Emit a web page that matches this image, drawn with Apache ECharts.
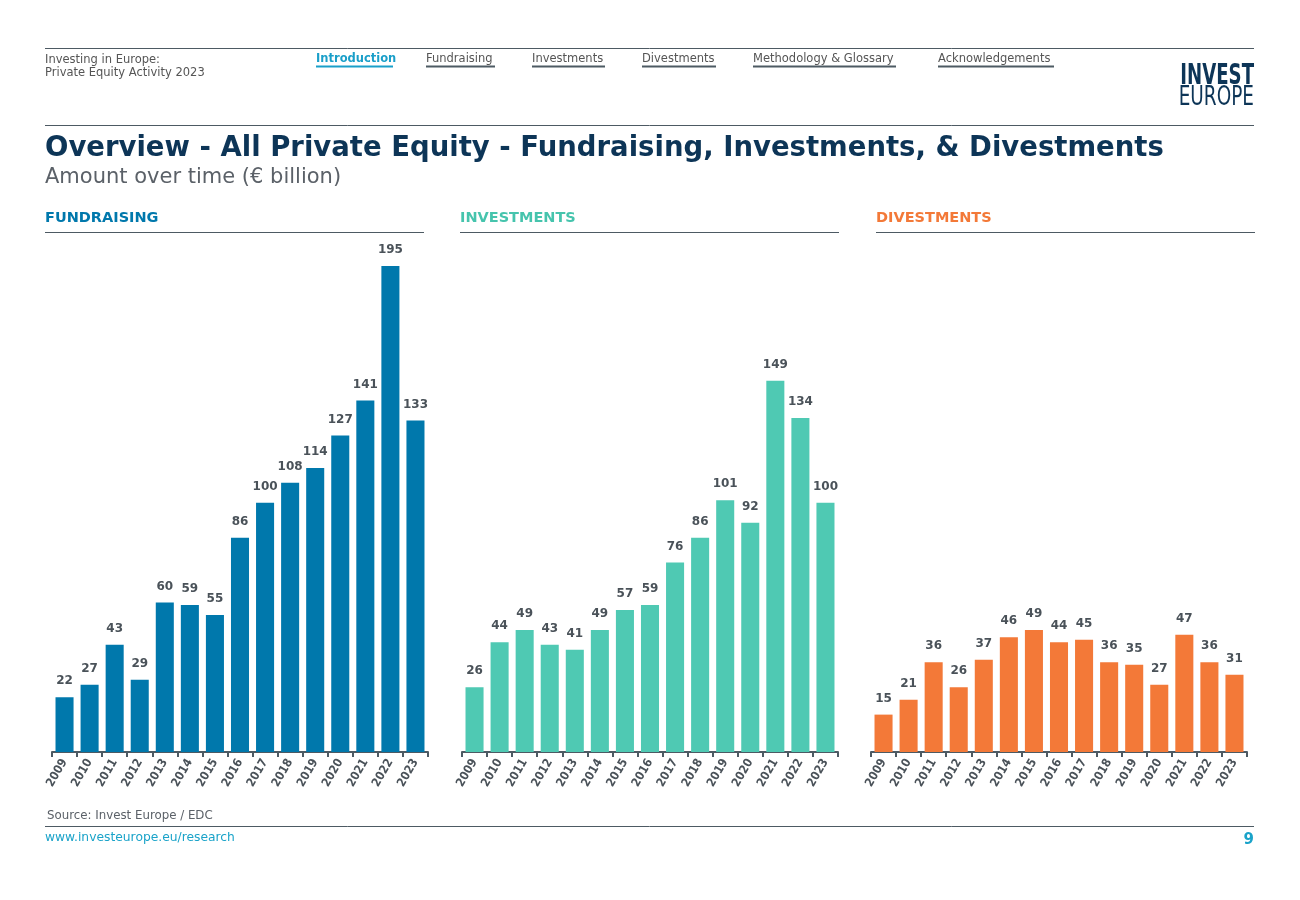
<!DOCTYPE html>
<html><head><meta charset="utf-8">
<script src="https://cdn.jsdelivr.net/npm/echarts@6/dist/echarts.min.js"></script>
<style>html,body{margin:0;padding:0;background:#fff}#c{width:1300px;height:900px}</style>
</head><body><div id="c"></div>
<script>
const years = ['2009','2010','2011','2012','2013','2014','2015','2016','2017','2018','2019','2020','2021','2022','2023'];
const fundraising = [22,27,43,29,60,59,55,86,100,108,114,127,141,195,133];
const investments = [26,44,49,43,41,49,57,59,76,86,101,92,149,134,100];
const divestments = [15,21,36,26,37,46,49,44,45,36,35,27,47,36,31];
const panelTitles = ['FUNDRAISING','INVESTMENTS','DIVESTMENTS'];
const navItems = ['Introduction','Fundraising','Investments','Divestments','Methodology & Glossary','Acknowledgements'];

const FONT = '"DejaVu Sans", sans-serif';
const COND = '"DejaVu Sans Condensed", "DejaVu Sans", sans-serif';
const colors = ['#0078ac','#4fc9b3','#f37938'];
const titleColors = ['#0078ac','#46c4ad','#f37938'];
const gridLefts = [52, 462, 871];
const gridW = 376;
const lineC = '#4d5a63';

const grids = gridLefts.map(l => ({left:l, width:gridW, top:266, height:486, containLabel:false}));
const xAxes = gridLefts.map((l,i) => ({
  type:'category', gridIndex:i, data:years,
  axisLine:{lineStyle:{color:lineC, width:2}},
  axisTick:{show:true, length:5, lineStyle:{color:lineC, width:2}},
  axisLabel:{rotate:60, fontFamily:COND, fontWeight:'bold', fontSize:12, color:'#4a5259', margin:8, interval:0}
}));
const yAxes = gridLefts.map((l,i) => ({type:'value', gridIndex:i, min:0, max:195, show:false, splitLine:{show:false}}));
const datas = [fundraising, investments, divestments];
const series = datas.map((d,i) => ({
  type:'bar', xAxisIndex:i, yAxisIndex:i, data:d, barCategoryGap:'28%',
  itemStyle:{color:colors[i]},
  label:{show:true, position:'top', distance:10, fontFamily:FONT, fontWeight:'bold', fontSize:12, color:'#4a5259'}
}));

const navX = [316, 426, 532, 642, 753, 938];
const navW = [77, 69, 73, 74, 143, 116];
const graphic = [];
function line(x1,y1,x2,y2,c,w){graphic.push({type:'line',shape:{x1,y1,x2,y2},style:{stroke:c,lineWidth:w}});}
function text(x,y,t,o,extra){graphic.push(Object.assign({type:'text',x,y,style:Object.assign({text:t,fontFamily:FONT,fill:'#555',fontSize:12,textVerticalAlign:'middle'},o)},extra||{}));}

line(45,48.5,1254,48.5,lineC,1);
line(45,125.5,1254,125.5,lineC,1);
line(45,826.5,1254,826.5,lineC,1);
text(45,60,'Investing in Europe:',{fontSize:11.5,fill:'#555'});
text(45,73,'Private Equity Activity 2023',{fontSize:11.5,fill:'#555'});
navItems.forEach((n,i)=>{
  text(navX[i],59,n,{fontSize:11.5,fill:i===0?'#1a9fc9':'#555',fontWeight:i===0?'bold':'normal'});
  line(navX[i],66.5,navX[i]+navW[i],66.5,i===0?'#1a9fc9':lineC,2);
});
text(1254,77,'INVEST',{fontSize:28,fontWeight:'bold',fill:'#0d3557',textAlign:'right',fontFamily:COND},{scaleX:0.72});
text(1254,98,'EUROPE',{fontSize:27,fill:'#0d3557',textAlign:'right',fontFamily:COND},{scaleX:0.76});
text(45,149,'Overview - All Private Equity - Fundraising, Investments, & Divestments',{fontSize:27.5,fontWeight:'bold',fill:'#0d3557',fontFamily:FONT});
text(45,177.5,'Amount over time (€ billion)',{fontSize:21,fill:'#5b6168'});
const phx=[45,460,876];
panelTitles.forEach((t,i)=>{
  text(phx[i],218.5,t,{fontSize:14.5,fontWeight:'bold',fill:titleColors[i],fontFamily:FONT});
  line(phx[i],232.5,phx[i]+379,232.5,lineC,1);
});
text(47,816,'Source: Invest Europe / EDC',{fontSize:11.8,fill:'#5b6168'});
text(45,838,'www.investeurope.eu/research',{fontSize:12.3,fill:'#1aa3c9'});
text(1254,840,'9',{fontSize:15,fontWeight:'bold',fill:'#1aa3c9',textAlign:'right'});

const chart = echarts.init(document.getElementById('c'));
chart.setOption({animation:false, grid:grids, xAxis:xAxes, yAxis:yAxes, series, graphic});
</script></body></html>
